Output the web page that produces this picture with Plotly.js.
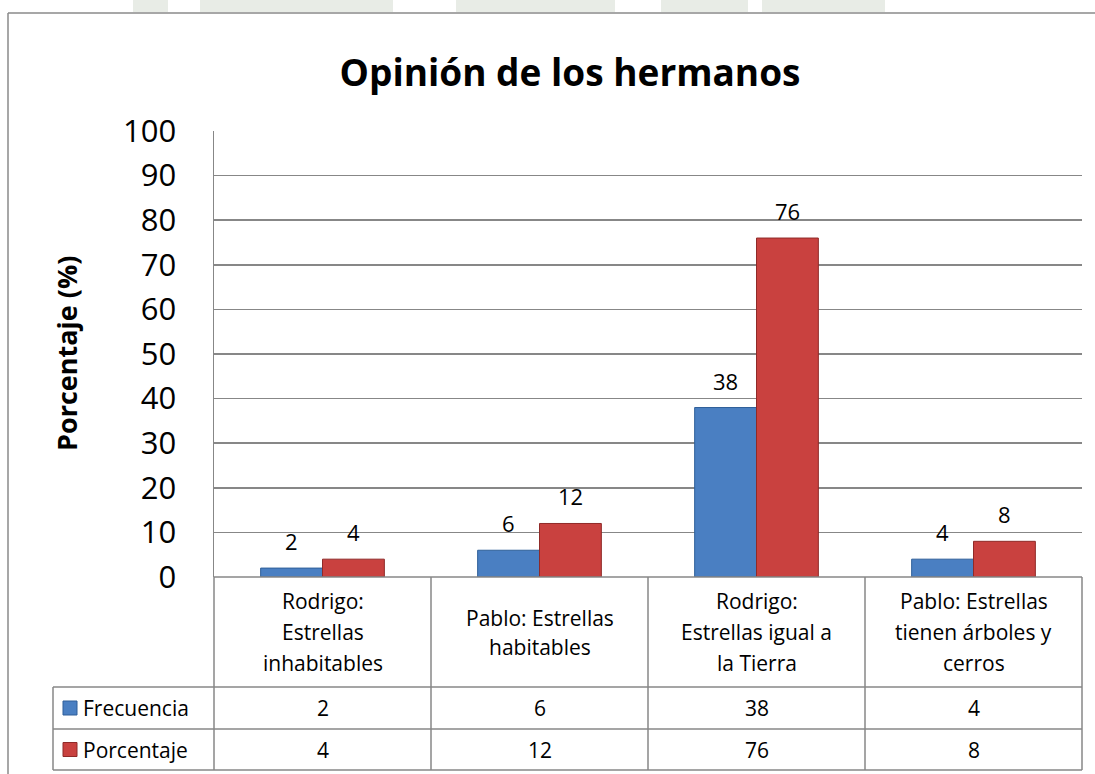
<!DOCTYPE html>
<html>
<head>
<meta charset="utf-8">
<script src="https://cdn.plot.ly/plotly-3.0.1.min.js"></script>
<style>
  html, body { margin: 0; padding: 0; background: #ffffff; }
  #chart { width: 1095px; height: 774px; }
</style>
</head>
<body>
<div id="chart"></div>
<script>
// ---- data ----
const categoryKeys = [
  'Rodrigo: Estrellas inhabitables',
  'Pablo: Estrellas habitables',
  'Rodrigo: Estrellas igual a la Tierra',
  'Pablo: Estrellas tienen árboles y cerros'
];
const categoryLines = [
  ['Rodrigo:', 'Estrellas', 'inhabitables'],
  ['Pablo: Estrellas', 'habitables'],
  ['Rodrigo:', 'Estrellas igual a', 'la Tierra'],
  ['Pablo: Estrellas', 'tienen árboles y', 'cerros']
];
const seriesNames = ['Frecuencia', 'Porcentaje'];
const frecuencia = [2, 6, 38, 4];
const porcentaje = [4, 12, 76, 8];
const yTickValues = [0, 10, 20, 30, 40, 50, 60, 70, 80, 90, 100];
const chartTitle = 'Opinión de los hermanos';
const yTitle = 'Porcentaje (%)';

// ---- styling / geometry ----
const W = 1095, H = 774;
const PL = 214, PR = 1082, PT = 131, PB = 577;
const FONT = 'Open Sans, Noto Sans, sans-serif';
const colors = ['#4a7fc2', '#c9413f'];
const lineColors = ['#2f5f99', '#8f2a28'];
const grid = '#878787';
const xp = px => (px - PL) / (PR - PL);
const yp = py => (PB - py) / (PB - PT);
const rowHeaderBottom = 687, row1Bottom = 729, row2Bottom = 770, legendLeft = 53;
const headerLineGap = 31;

const allSeries = [frecuencia, porcentaje];

const traces = allSeries.map((vals, i) => ({
  type: 'bar',
  name: seriesNames[i],
  x: categoryKeys,
  y: vals,
  marker: { color: colors[i], line: { color: lineColors[i], width: 1 } },
  hoverinfo: 'x+y+name'
}));

const annotations = [];
const shapes = [];

// data labels above bars
allSeries.forEach((vals, s) => {
  vals.forEach((v, c) => {
    annotations.push({
      xref: 'x', yref: 'y', x: categoryKeys[c], y: v,
      xshift: (s === 0 ? -31 : 31), yshift: 10,
      yanchor: 'bottom', showarrow: false,
      text: String(v), font: { family: FONT, size: 22, color: '#000' }
    });
  });
});

// y axis title
annotations.push({
  xref: 'paper', yref: 'paper', x: xp(66), y: 0.5,
  xanchor: 'center', yanchor: 'middle', textangle: -90, showarrow: false,
  text: '<b>' + yTitle + '</b>', font: { family: FONT, size: 27, color: '#000' }
});

// table header (category labels), one annotation per line
const headerMid = (PB + rowHeaderBottom) / 2;
categoryLines.forEach((lines, c) => {
  const n = lines.length;
  lines.forEach((ln, k) => {
    const cy = headerMid + (k - (n - 1) / 2) * (n === 2 ? 29 : headerLineGap);
    annotations.push({
      xref: 'x', yref: 'paper', x: categoryKeys[c], y: yp(cy),
      xanchor: 'center', yanchor: 'middle', showarrow: false,
      text: ln, font: { family: FONT, size: 21, color: '#000' }
    });
  });
});

// table rows
const rowCenters = [(rowHeaderBottom + row1Bottom) / 2, (row1Bottom + row2Bottom) / 2];
allSeries.forEach((vals, s) => {
  vals.forEach((v, c) => {
    annotations.push({
      xref: 'x', yref: 'paper', x: categoryKeys[c], y: yp(rowCenters[s]),
      xanchor: 'center', yanchor: 'middle', showarrow: false,
      text: String(v), font: { family: FONT, size: 21, color: '#000' }
    });
  });
  annotations.push({
    xref: 'paper', yref: 'paper', x: xp(81), y: yp(rowCenters[s]),
    xanchor: 'left', yanchor: 'middle', showarrow: false,
    text: seriesNames[s], font: { family: FONT, size: 21, color: '#000' }
  });
  shapes.push({
    type: 'rect', xref: 'paper', yref: 'paper',
    x0: xp(63), x1: xp(77), y0: yp(rowCenters[s] - 7), y1: yp(rowCenters[s] + 7),
    fillcolor: colors[s], line: { color: lineColors[s], width: 1 }
  });
});

const tl = { color: grid, width: 1.5 };
// horizontal table lines
shapes.push({ type: 'line', xref: 'paper', yref: 'paper', x0: 0, x1: 1, y0: 0, y1: 0, line: tl });
[rowHeaderBottom, row1Bottom, row2Bottom].forEach(py => {
  shapes.push({ type: 'line', xref: 'paper', yref: 'paper', x0: xp(legendLeft), x1: 1, y0: yp(py), y1: yp(py), line: tl });
});
// vertical table lines
for (let i = 0; i <= categoryKeys.length; i++) {
  shapes.push({ type: 'line', xref: 'paper', yref: 'paper', x0: i / categoryKeys.length, x1: i / categoryKeys.length, y0: 0, y1: yp(row2Bottom), line: tl });
}
shapes.push({ type: 'line', xref: 'paper', yref: 'paper', x0: xp(legendLeft), x1: xp(legendLeft), y0: yp(rowHeaderBottom), y1: yp(row2Bottom), line: tl });

// outer chart frame (left and top)
shapes.push({ type: 'line', xref: 'paper', yref: 'paper', x0: xp(8), x1: xp(8), y0: yp(13), y1: yp(H), line: { color: '#8a8a8a', width: 1.5 } });
shapes.push({ type: 'line', xref: 'paper', yref: 'paper', x0: xp(8), x1: xp(W), y0: yp(13), y1: yp(13), line: { color: '#8a8a8a', width: 1.5 } });

// faint background watermark fragments at the very top
const wm = [[133, 168], [200, 393], [456, 547], [545, 615], [661, 748], [762, 885]];
wm.forEach(([a, b]) => {
  shapes.push({ type: 'rect', xref: 'paper', yref: 'paper', layer: 'below',
    x0: xp(a), x1: xp(b), y0: yp(12), y1: yp(0), fillcolor: '#e8ece6', line: { width: 0 } });
});

const layout = {
  width: W, height: H,
  margin: { l: PL, r: W - PR, t: PT, b: H - PB, pad: 0 },
  paper_bgcolor: '#ffffff', plot_bgcolor: '#ffffff',
  font: { family: FONT, color: '#000' },
  title: {
    text: '<b>' + chartTitle + '</b>',
    font: { family: FONT, size: 37, color: '#000' },
    x: 570 / W, xanchor: 'center', y: 1 - 73 / H, yanchor: 'middle'
  },
  barmode: 'group', bargap: 0.43, bargroupgap: 0,
  showlegend: false,
  xaxis: { showticklabels: false, showgrid: false, zeroline: false, showline: false, ticks: '', fixedrange: true },
  yaxis: {
    range: [0, 100], tickvals: yTickValues, ticks: '', ticklabelstandoff: 30,
    tickfont: { family: FONT, size: 31, color: '#000' },
    showgrid: true, gridcolor: grid, gridwidth: 1.5,
    zeroline: false, showline: true, linecolor: grid, linewidth: 1.5, fixedrange: true
  },
  annotations: annotations,
  shapes: shapes
};

Plotly.newPlot('chart', traces, layout, { displayModeBar: false, staticPlot: true });
</script>
</body>
</html>
